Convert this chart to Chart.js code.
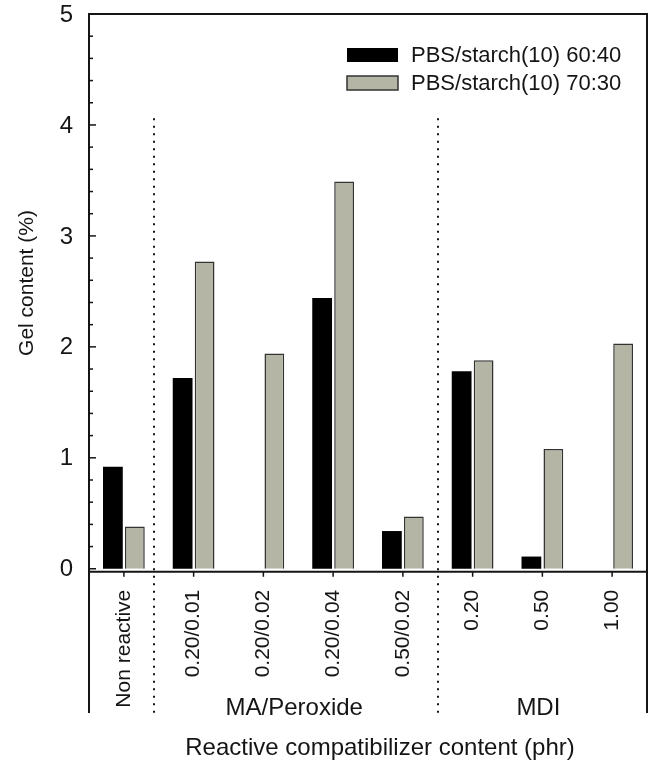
<!DOCTYPE html>
<html>
<head>
<meta charset="utf-8">
<script src="https://cdn.jsdelivr.net/npm/chart.js@4"></script>
<style>
  body { margin: 0; background: #fff; }
  #wrap { width: 648px; height: 764px; }
</style>
</head>
<body>
<div id="wrap"><canvas id="chart" width="648" height="764"></canvas></div>
<script>
// Data
const categories = ['Non reactive', '0.20/0.01', '0.20/0.02', '0.20/0.04', '0.50/0.02', '0.20', '0.50', '1.00'];
const seriesNames = ['PBS/starch(10) 60:40', 'PBS/starch(10) 70:30'];
const gel6040 = [0.92, 1.72, null, 2.44, 0.34, 1.78, 0.11, null];
const gel7030 = [0.38, 2.77, 1.94, 3.49, 0.47, 1.88, 1.08, 2.03];
const yTickLabels = [0, 1, 2, 3, 4, 5];
const groupLabels = ['MA/Peroxide', 'MDI'];
const groupSpans = [[1, 4], [5, 7]];

const FONT = '"Liberation Sans", Arial, sans-serif';
const INK = '#151515';

// Axes, ticks, labels and legend drawn by hand to copy the original layout
const decor = {
    id: 'decor',
    afterDraw(chart) {
        const { ctx, chartArea: a, scales: { x, y } } = chart;
        const y0 = y.getPixelForValue(0) + 3;
        ctx.save();
        ctx.strokeStyle = INK;
        ctx.fillStyle = INK;

        // frame (open at the bottom)
        ctx.lineWidth = 2;
        ctx.beginPath();
        ctx.moveTo(a.left, a.bottom);
        ctx.lineTo(a.left, a.top);
        ctx.lineTo(a.right, a.top);
        ctx.lineTo(a.right, a.bottom);
        ctx.stroke();

        // zero line
        ctx.beginPath();
        ctx.moveTo(a.left, y0);
        ctx.lineTo(a.right, y0);
        ctx.stroke();

        // y ticks, inside
        ctx.lineWidth = 1.5;
        for (let i = 0; i <= 25; i++) {
            const py = y.getPixelForValue(i / 5);
            const len = i % 5 === 0 ? 7 : 4;
            ctx.beginPath();
            ctx.moveTo(a.left, py);
            ctx.lineTo(a.left + len, py);
            ctx.stroke();
        }
        ctx.font = '24px ' + FONT;
        ctx.textAlign = 'right';
        ctx.textBaseline = 'middle';
        yTickLabels.forEach(v => ctx.fillText(String(v), a.left - 16, y.getPixelForValue(v) + 1));

        // x ticks and rotated category labels
        ctx.font = '21px ' + FONT;
        categories.forEach((c, i) => {
            const px = x.getPixelForValue(i);
            ctx.beginPath();
            ctx.moveTo(px, y0);
            ctx.lineTo(px, y0 + 5);
            ctx.stroke();
            ctx.save();
            ctx.translate(px, y0 + 18);
            ctx.rotate(-Math.PI / 2);
            ctx.textAlign = 'right';
            ctx.textBaseline = 'middle';
            ctx.fillText(c, 0, 0);
            ctx.restore();
        });

        // dotted group separators
        ctx.lineWidth = 2;
        ctx.setLineDash([2, 5.5]);
        [0.43, 4.5].forEach(v => {
            const px = Math.round(x.getPixelForValue(v));
            ctx.beginPath();
            ctx.moveTo(px, y.getPixelForValue(4.06));
            ctx.lineTo(px, a.bottom);
            ctx.stroke();
        });
        ctx.setLineDash([]);

        // group labels
        ctx.font = '24px ' + FONT;
        ctx.textAlign = 'center';
        ctx.textBaseline = 'middle';
        groupLabels.forEach((g, i) => {
            const [f, t] = groupSpans[i];
            const cx = (x.getPixelForValue(f) + x.getPixelForValue(t)) / 2 - (i === 0 ? 4 : 4);
            ctx.fillText(g, cx, 708);
        });

        // axis titles
        ctx.fillText('Reactive compatibilizer content (phr)', (a.left + a.right) / 2 + 12, 748);
        ctx.font = '21px ' + FONT;
        ctx.save();
        ctx.translate(27, 283);
        ctx.rotate(-Math.PI / 2);
        ctx.fillText('Gel content (%)', 0, 0);
        ctx.restore();

        // legend
        ctx.font = '22px ' + FONT;
        ctx.textAlign = 'left';
        chart.data.datasets.forEach((ds, i) => {
            const top = 48 + i * 28;
            ctx.fillStyle = ds.backgroundColor;
            ctx.fillRect(347, top, 51, 14);
            if (ds.borderWidth) {
                ctx.lineWidth = 1.5;
                ctx.strokeStyle = ds.borderColor;
                ctx.strokeRect(347, top, 51, 14);
            }
            ctx.fillStyle = INK;
            ctx.fillText(ds.label, 411, top + 8);
        });
        ctx.restore();
    }
};

new Chart(document.getElementById('chart'), {
    type: 'bar',
    data: {
        labels: categories,
        datasets: [
            {
                label: seriesNames[0],
                data: gel6040,
                backgroundColor: '#000000',
                borderWidth: 0,
                categoryPercentage: 0.63,
                barPercentage: 0.9
            },
            {
                label: seriesNames[1],
                data: gel7030,
                backgroundColor: '#b5b5a6',
                borderColor: '#333333',
                borderWidth: 1.5,
                categoryPercentage: 0.63,
                barPercentage: 0.9
            }
        ]
    },
    options: {
        responsive: false,
        animation: false,
        layout: { padding: { top: 14, left: 89, right: 1, bottom: 51 } },
        scales: {
            x: { display: false },
            y: { display: false, min: -1.3, max: 5 }
        },
        plugins: {
            legend: { display: false },
            tooltip: { enabled: false }
        }
    },
    plugins: [decor]
});
</script>
</body>
</html>
